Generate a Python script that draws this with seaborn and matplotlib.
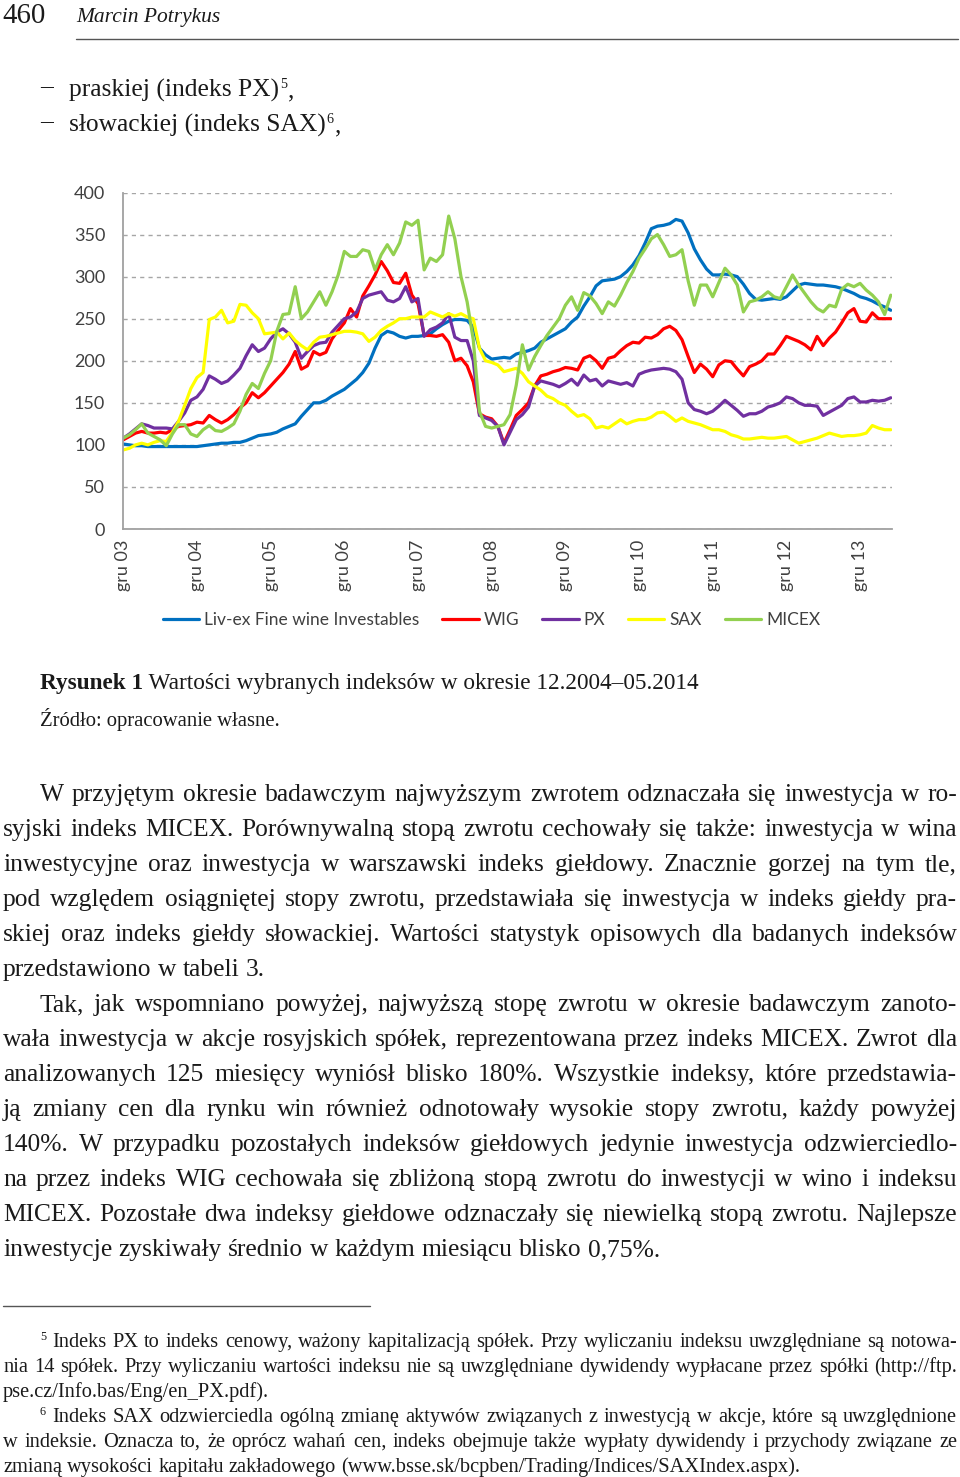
import numpy as np
import pandas as pd
import seaborn as sns
import matplotlib.pyplot as plt

# Monthly index values, gru 03 .. maj 14 (126 months)
liv_ex = [101, 100, 99, 99, 98, 98, 98, 98, 98, 98, 98, 98, 98, 99, 100, 101, 102, 102, 103, 103, 105, 108, 111, 112, 113, 115, 119,
          122, 125, 134, 142, 150, 150, 153, 158, 162, 166, 172, 178, 186, 197, 215, 230, 235, 233, 229, 227, 229, 229, 230, 232,
          238, 243, 247, 249, 249, 248, 240, 215, 207, 202, 203, 204, 203, 208, 210, 212, 215, 222, 226, 230, 234, 238, 246, 252, 265, 276,
          289, 295, 296, 297, 300, 306, 314, 325, 340, 357, 360, 361, 363, 368, 366, 352, 333, 320, 309, 302, 302, 303, 302, 300, 291, 280,
          273, 272, 273, 274, 273, 276, 283, 290, 292, 291, 290, 290, 289, 288, 286, 283, 280, 276, 274, 271, 267, 264, 260]
wig = [106, 110, 114, 116, 114, 114, 115, 114, 118, 122, 123, 124, 127, 126, 135, 130, 126, 130, 136, 144, 150, 162, 156, 162, 170, 178, 186,
       196, 211, 190, 194, 211, 207, 210, 226, 236, 245, 262, 252, 277, 289, 302, 318, 307, 293, 292, 304, 278, 268, 230, 230,
       229, 231, 222, 200, 203, 194, 175, 137, 133, 131, 122, 102, 118, 135, 142, 150, 170, 182, 184, 187, 189, 192, 191, 189, 203, 206,
       200, 191, 203, 205, 212, 218, 222, 221, 228, 227, 231, 238, 241, 236, 225, 205, 186, 196, 190, 181, 195, 200, 199, 190, 182, 193,
       196, 200, 208, 208, 218, 229, 226, 223, 219, 213, 229, 218, 227, 234, 245, 257, 262, 247, 246, 257, 250, 250, 250]
px = [108, 113, 119, 125, 123, 120, 120, 120, 119, 128, 138, 153, 157, 166, 182, 178, 173, 176, 183, 191, 206, 219, 211, 215, 226, 234, 238,
      232, 222, 203, 211, 218, 221, 222, 234, 242, 250, 252, 258, 274, 278, 280, 282, 272, 270, 274, 288, 270, 274, 229, 237,
      240, 245, 256, 228, 224, 224, 200, 135, 132, 129, 122, 100, 115, 130, 136, 145, 170, 176, 174, 172, 169, 173, 178, 171, 183, 176,
      178, 170, 176, 174, 172, 174, 170, 184, 187, 189, 190, 191, 190, 187, 178, 150, 142, 140, 137, 140, 146, 153, 147, 141, 134, 137,
      137, 140, 145, 147, 150, 157, 155, 150, 147, 147, 146, 135, 139, 143, 147, 155, 157, 151, 151, 153, 152, 153, 156]
sax = [94, 96, 100, 102, 100, 103, 105, 104, 115, 128, 147, 167, 180, 186, 249, 252, 260, 245, 247, 267, 266, 257, 250, 232, 233, 234, 226,
       233, 224, 218, 213, 222, 228, 229, 231, 233, 235, 235, 234, 232, 223, 228, 236, 241, 245, 250, 250, 252, 252, 252, 258,
       255, 252, 256, 253, 256, 252, 250, 215, 200, 198, 195, 187, 189, 191, 185, 175, 170, 165, 158, 155, 150, 147, 140, 134, 136, 131,
       120, 122, 120, 125, 130, 125, 128, 130, 130, 133, 138, 139, 134, 128, 132, 128, 126, 124, 121, 118, 118, 116, 112, 110, 107, 107,
       108, 109, 108, 108, 109, 110, 106, 102, 104, 106, 108, 111, 114, 112, 110, 111, 111, 112, 114, 123, 120, 118, 118]
micex = [108, 112, 118, 125, 114, 110, 106, 99, 113, 124, 124, 113, 110, 118, 123, 117, 116, 120, 125, 140, 160, 173, 167, 185, 200, 235, 255,
         256, 288, 250, 258, 270, 282, 266, 282, 302, 330, 324, 324, 332, 330, 308, 326, 338, 326, 340, 365, 361, 367, 308, 322,
         318, 326, 372, 345, 300, 270, 225, 140, 122, 120, 122, 124, 136, 171, 219, 189, 205, 218, 230, 240, 250, 266, 276, 260, 281, 277,
         268, 256, 270, 265, 278, 293, 306, 322, 333, 345, 350, 338, 324, 326, 332, 295, 266, 290, 290, 276, 293, 310, 302, 290, 258, 270,
         272, 276, 282, 276, 274, 288, 302, 290, 280, 270, 262, 258, 266, 264, 285, 291, 288, 292, 284, 278, 270, 255, 278]

series_names = ["Liv-ex Fine wine Investables", "WIG", "PX", "SAX", "MICEX"]
series_colors = ["#0070C0", "#FF0000", "#7030A0", "#FFFF00", "#92D050"]
year_labels = ["gru 03", "gru 04", "gru 05", "gru 06", "gru 07", "gru 08",
               "gru 09", "gru 10", "gru 11", "gru 12", "gru 13"]
y_ticks = [0, 50, 100, 150, 200, 250, 300, 350, 400]

# page text
header_num = "460"
header_author = "Marcin Potrykus"
bullets = [("praskiej (indeks PX)", "5"), ("słowackiej (indeks SAX)", "6")]
caption_bold = "Rysunek 1"
caption_rest = " Wartości wybranych indeksów w okresie 12.2004–05.2014"
source = "Źródło: opracowanie własne."
par1 = [
    "W przyjętym okresie badawczym najwyższym zwrotem odznaczała się inwestycja w ro-",
    "syjski indeks MICEX. Porównywalną stopą zwrotu cechowały się także: inwestycja w wina",
    "inwestycyjne oraz inwestycja w warszawski indeks giełdowy. Znacznie gorzej na tym tle,",
    "pod względem osiągniętej stopy zwrotu, przedstawiała się inwestycja w indeks giełdy pra-",
    "skiej oraz indeks giełdy słowackiej. Wartości statystyk opisowych dla badanych indeksów",
    "przedstawiono w tabeli 3.",
]
par2 = [
    "Tak, jak wspomniano powyżej, najwyższą stopę zwrotu w okresie badawczym zanoto-",
    "wała inwestycja w akcje rosyjskich spółek, reprezentowana przez indeks MICEX. Zwrot dla",
    "analizowanych 125 miesięcy wyniósł blisko 180%. Wszystkie indeksy, które przedstawia-",
    "ją zmiany cen dla rynku win również odnotowały wysokie stopy zwrotu, każdy powyżej",
    "140%. W przypadku pozostałych indeksów giełdowych jedynie inwestycja odzwierciedlo-",
    "na przez indeks WIG cechowała się zbliżoną stopą zwrotu do inwestycji w wino i indeksu",
    "MICEX. Pozostałe dwa indeksy giełdowe odznaczały się niewielką stopą zwrotu. Najlepsze",
    "inwestycje zyskiwały średnio w każdym miesiącu blisko 0,75%.",
]
foot5 = [
    "Indeks PX to indeks cenowy, ważony kapitalizacją spółek. Przy wyliczaniu indeksu uwzględniane są notowa-",
    "nia 14 spółek. Przy wyliczaniu wartości indeksu nie są uwzględniane dywidendy wypłacane przez spółki (http://ftp.",
    "pse.cz/Info.bas/Eng/en_PX.pdf).",
]
foot6 = [
    "Indeks SAX odzwierciedla ogólną zmianę aktywów związanych z inwestycją w akcje, które są uwzględnione",
    "w indeksie. Oznacza to, że oprócz wahań cen, indeks obejmuje także wypłaty dywidendy i przychody związane ze",
    "zmianą wysokości kapitału zakładowego (www.bsse.sk/bcpben/Trading/Indices/SAXIndex.aspx).",
]

W, H = 960, 1477
sns.set_style("white")
plt.rcParams["font.family"] = ["Lato", "DejaVu Sans"]
SERIF = ["Liberation Serif", "DejaVu Serif"]
INK = "#1a1a1a"

fig = plt.figure(figsize=(W / 100, H / 100), dpi=100)
fig.patch.set_facecolor("white")
rend = fig.canvas.get_renderer()


def fx(x):
    return x / W


def fy(y):
    return 1 - y / H


def text_w(s, size, **kw):
    t = fig.text(0, 0, s, fontsize=size, family=SERIF, **kw)
    w = t.get_window_extent(rend).width
    t.remove()
    return w


def put(x, base, s, size, **kw):
    fig.text(fx(x), fy(base), s, fontsize=size, family=SERIF, va="baseline",
             ha="left", color=INK, **kw)


def fit(s, width, **kw):
    return 20 * width / text_w(s, 20, **kw)


def justified(lines, starts, right, base0, step, size):
    space = text_w("a a", size) - text_w("aa", size)
    for i, line in enumerate(lines):
        x0 = starts[i]
        words = line.split()
        ws = [text_w(w, size) for w in words]
        if i == len(lines) - 1:
            gap = space
        else:
            gap = (right - x0 - sum(ws)) / (len(words) - 1)
        x = x0
        for w, wd in zip(words, ws):
            put(x, base0 + i * step, w, size)
            x += wd + gap


def para_size(lines, starts, right, cap):
    r = min((right - starts[i]) / text_w(l, 20) for i, l in enumerate(lines[:-1]))
    return min(cap, 20 * r * 0.99)


# header
put(2, 23, header_num, fit(header_num, 43))
put(76, 22, header_author, fit(header_author, 144, style="italic"), style="italic")
fig.add_artist(plt.Line2D([fx(76), fx(958)], [fy(39), fy(39)], color="#555555", lw=1))

# body font size from the paragraphs
st1 = [40] + [3] * (len(par1) - 1)
st2 = [40] + [3] * (len(par2) - 1)
body = min(para_size(par1, st1, 957, 21), para_size(par2, st2, 957, 21))

# bullet lines
for i, (txt, sup) in enumerate(bullets):
    base = 97 + 35 * i
    put(40, base - 5, "–", body)
    put(69, base, txt, body)
    xs = 69 + text_w(txt, body) + 1
    put(xs, base - 9, sup, body * 0.55)
    put(xs + text_w(sup, body * 0.55) + 1, base, ",", body)

# chart
months = np.arange(len(liv_ex))
df = pd.DataFrame({
    "month": np.tile(months, 5),
    "value": np.concatenate([liv_ex, wig, px, sax, micex]),
    "series": np.repeat(series_names, len(months)),
})
ax = fig.add_axes([fx(123.3), fy(529), (892 - 123.3) / W, (529 - 192.5) / H])
sns.lineplot(data=df, x="month", y="value", hue="series", hue_order=series_names,
             palette=series_colors, linewidth=2.3, ax=ax, legend=False)
ax.set_xlim(0, 125.2)
ax.set_ylim(0, 400)
ax.set_yticks(y_ticks)
ax.set_xticks(np.arange(0, 121, 12))
ax.set_xticklabels(year_labels, rotation=90)
ax.set_xlabel("")
ax.set_ylabel("")
ax.yaxis.grid(True, color="#a6a6a6", linestyle=(0, (3, 3)), linewidth=1)
ax.xaxis.grid(False)
ax.set_axisbelow(True)
for s in ["top", "right"]:
    ax.spines[s].set_visible(False)
for s in ["left", "bottom"]:
    ax.spines[s].set_color("#a0a0a0")
    ax.spines[s].set_linewidth(1.3)
ax.tick_params(axis="both", length=5, width=1.2, color="#a0a0a0", labelsize=13,
               labelcolor="#404040", direction="out")
ax.tick_params(axis="y", pad=8)
ax.tick_params(axis="x", pad=3)

fig.legend(handles=ax.lines[:5], labels=series_names, ncol=5, loc="center",
           bbox_to_anchor=(fx(491.5), fy(620)), frameon=False, fontsize=12.5,
           handlelength=2.1, handletextpad=0.3, columnspacing=1.3,
           labelcolor="#404040")

# caption and source
cap_size = 20 * 660 / (text_w(caption_bold, 20, weight="bold") + text_w(caption_rest, 20))
put(40, 689, caption_bold, cap_size, weight="bold")
put(40 + text_w(caption_bold, cap_size, weight="bold"), 689, caption_rest, cap_size)
put(40, 726, source, fit(source, 240))

# paragraphs
justified(par1, st1, 957, 801, 35, body)
justified(par2, st2, 957, 1011, 35, body)

# footnotes
fig.add_artist(plt.Line2D([fx(3), fx(370)], [fy(1306), fy(1306)], color="#555555", lw=1))
fs5 = [52, 3, 3]
foot = min(para_size(foot5, fs5, 957, 16), para_size(foot6, fs5, 957, 16))
put(40, 1340, "5", foot * 0.6)
justified(foot5, fs5, 957, 1347, 25, foot)
put(40, 1415, "6", foot * 0.6)
justified(foot6, fs5, 957, 1422, 25, foot)

fig.savefig("out.png", dpi=100, facecolor="white")
